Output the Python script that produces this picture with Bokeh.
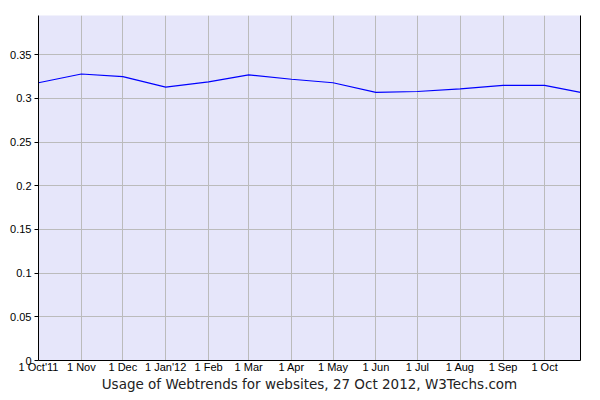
import pandas as pd
from bokeh.plotting import figure
from bokeh.models import FixedTicker, Range1d, LinearAxis
from bokeh.embed import file_html
from bokeh.resources import INLINE

dates = ["2011-10-01", "2011-11-01", "2011-12-01", "2012-01-01", "2012-02-01",
         "2012-03-01", "2012-04-01", "2012-05-01", "2012-06-01", "2012-07-01",
         "2012-08-01", "2012-09-01", "2012-10-01", "2012-10-27"]
usage = [0.318, 0.328, 0.325, 0.313, 0.319, 0.327, 0.322, 0.318, 0.307, 0.308,
         0.311, 0.315, 0.315, 0.307]

tick_dates = ["2011-10-01", "2011-11-01", "2011-12-01", "2012-01-01", "2012-02-01",
              "2012-03-01", "2012-04-01", "2012-05-01", "2012-06-01", "2012-07-01",
              "2012-08-01", "2012-09-01", "2012-10-01"]
tick_labels = ["1 Oct'11", "1 Nov", "1 Dec", "1 Jan'12", "1 Feb", "1 Mar", "1 Apr",
               "1 May", "1 Jun", "1 Jul", "1 Aug", "1 Sep", "1 Oct"]
y_ticks = [0, 0.05, 0.1, 0.15, 0.2, 0.25, 0.3, 0.35]
y_labels = ["0", "0.05", "0.1", "0.15", "0.2", "0.25", "0.3", "0.35"]
x_title = "Usage of Webtrends for websites, 27 Oct 2012, W3Techs.com"

def ms(d):
    return pd.Timestamp(d).value / 1e6

x = [pd.Timestamp(d) for d in dates]
tick_ms = [ms(d) for d in tick_dates]

p = figure(x_axis_type="datetime", output_backend="svg", toolbar_location=None,
           frame_width=542, frame_height=345,
           min_border_left=38, min_border_right=12, min_border_top=15, min_border_bottom=5,
           x_range=Range1d(ms("2011-10-01"), ms("2012-10-27")),
           y_range=Range1d(0, 0.395))
p.background_fill_color = "#e6e6fa"
p.border_fill_color = "white"
p.outline_line_color = None

p.line(x, usage, line_color="#0000ff", line_width=1.2)

# right border
p.extra_y_ranges = {"r": Range1d(0, 0.395)}
ra = LinearAxis(y_range_name="r", major_tick_line_color=None, minor_tick_line_color=None,
                major_label_text_font_size="0px", axis_line_color="black")
ra.ticker = FixedTicker(ticks=[])
p.add_layout(ra, "right")

xa = p.xaxis[0]
xa.ticker = FixedTicker(ticks=tick_ms)
xa.major_label_overrides = {t: l for t, l in zip(tick_ms, tick_labels)}
xa.major_tick_line_color = None
xa.minor_tick_line_color = None
xa.major_tick_out = 0
xa.major_tick_in = 0
xa.major_label_standoff = 0
xa.major_label_text_font = "Liberation Sans"
xa.major_label_text_font_size = "11px"
xa.major_label_text_color = "black"
xa.axis_line_color = "black"
xa.axis_label = x_title
xa.axis_label_text_font = "DejaVu Sans"
xa.axis_label_text_font_size = "13.5px"
xa.axis_label_text_font_style = "normal"
xa.axis_label_text_color = "#222222"
xa.axis_label_standoff = 0

ya = p.yaxis[0]
ya.ticker = FixedTicker(ticks=y_ticks)
ya.major_label_overrides = {t: l for t, l in zip(y_ticks, y_labels)}
ya.major_tick_out = 4
ya.major_tick_in = 0
ya.major_tick_line_color = "black"
ya.minor_tick_line_color = None
ya.major_label_standoff = 3
ya.major_label_text_font = "Liberation Sans"
ya.major_label_text_font_size = "11px"
ya.major_label_text_color = "black"
ya.axis_line_color = "black"

p.xgrid.grid_line_color = "#bbbbbb"
p.ygrid.grid_line_color = "#bbbbbb"
p.xgrid.ticker = FixedTicker(ticks=tick_ms)
p.ygrid.ticker = FixedTicker(ticks=y_ticks)

open("out.html", "w").write(file_html(p, INLINE))
